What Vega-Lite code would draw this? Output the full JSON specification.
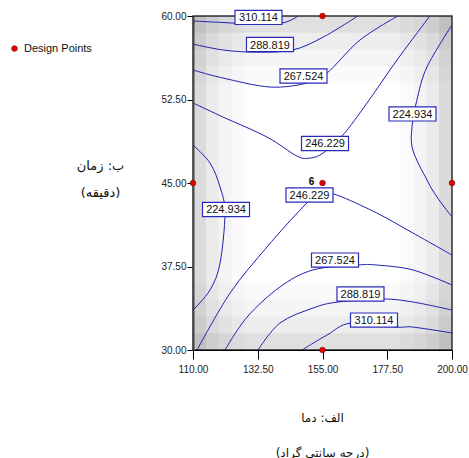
{
  "$schema": "https://vega.github.io/schema/vega-lite/v6.json",
  "width": 259,
  "height": 334,
  "autosize": "none",
  "padding": {"left": 193, "top": 16, "right": 17, "bottom": 108},
  "background": "white",
  "config": {
    "view": {"stroke": "#333", "strokeWidth": 1.5},
    "axis": {"labelFont": "Liberation Sans", "labelFontSize": 10, "labelColor": "#222", "titleFont": "DejaVu Sans", "titleFontWeight": "normal", "titleColor": "#111", "tickColor": "#000", "grid": false, "labelFlush": false, "labelOverlap": false}
  },
  "datasets": {
    "shade": [
      {"x1": 110, "x2": 114.5, "y1": 30, "y2": 60, "a": 0.14},
      {"x1": 114.5, "x2": 119, "y1": 30, "y2": 60, "a": 0.08},
      {"x1": 119, "x2": 123.5, "y1": 30, "y2": 60, "a": 0.045},
      {"x1": 123.5, "x2": 128, "y1": 30, "y2": 60, "a": 0.02},
      {"x1": 195.5, "x2": 200, "y1": 30, "y2": 60, "a": 0.14},
      {"x1": 191, "x2": 195.5, "y1": 30, "y2": 60, "a": 0.08},
      {"x1": 186.5, "x2": 191, "y1": 30, "y2": 60, "a": 0.045},
      {"x1": 182, "x2": 186.5, "y1": 30, "y2": 60, "a": 0.02},
      {"x1": 110, "x2": 200, "y1": 58.5, "y2": 60, "a": 0.12},
      {"x1": 110, "x2": 200, "y1": 57, "y2": 58.5, "a": 0.07},
      {"x1": 110, "x2": 200, "y1": 55.5, "y2": 57, "a": 0.04},
      {"x1": 110, "x2": 200, "y1": 54, "y2": 55.5, "a": 0.02},
      {"x1": 110, "x2": 200, "y1": 30, "y2": 31.5, "a": 0.12},
      {"x1": 110, "x2": 200, "y1": 31.5, "y2": 33, "a": 0.07},
      {"x1": 110, "x2": 200, "y1": 33, "y2": 34.5, "a": 0.04},
      {"x1": 110, "x2": 200, "y1": 34.5, "y2": 36, "a": 0.02}
    ],
    "contours": [
      {"c": "A", "i": 1, "x": 110, "y": 59.55},
      {"c": "A", "i": 2, "x": 120, "y": 59.42},
      {"c": "A", "i": 3, "x": 130, "y": 59.3},
      {"c": "A", "i": 4, "x": 141, "y": 59.37},
      {"c": "A", "i": 5, "x": 146.5, "y": 60},
      {"c": "B", "i": 1, "x": 110, "y": 57.48},
      {"c": "B", "i": 2, "x": 120.4, "y": 56.95},
      {"c": "B", "i": 3, "x": 132, "y": 56.75},
      {"c": "B", "i": 4, "x": 144.7, "y": 56.95},
      {"c": "B", "i": 5, "x": 155.2, "y": 58.1},
      {"c": "B", "i": 6, "x": 167.3, "y": 60},
      {"c": "C", "i": 1, "x": 110, "y": 55.15},
      {"c": "C", "i": 2, "x": 120.4, "y": 54.43},
      {"c": "C", "i": 3, "x": 136.75, "y": 53.62},
      {"c": "C", "i": 4, "x": 149.6, "y": 53.98},
      {"c": "C", "i": 5, "x": 156.6, "y": 54.88},
      {"c": "C", "i": 6, "x": 168, "y": 57.84},
      {"c": "C", "i": 7, "x": 181.2, "y": 60},
      {"c": "D", "i": 1, "x": 110, "y": 52.19},
      {"c": "D", "i": 2, "x": 120.4, "y": 50.93},
      {"c": "D", "i": 3, "x": 135.7, "y": 49.13},
      {"c": "D", "i": 4, "x": 146.1, "y": 47.42},
      {"c": "D", "i": 5, "x": 150.65, "y": 47.24},
      {"c": "D", "i": 6, "x": 155.2, "y": 47.69},
      {"c": "D", "i": 7, "x": 162.1, "y": 49.31},
      {"c": "D", "i": 8, "x": 170.5, "y": 52.19},
      {"c": "D", "i": 9, "x": 180.9, "y": 56.05},
      {"c": "D", "i": 10, "x": 192.3, "y": 60},
      {"c": "E", "i": 1, "x": 200, "y": 59.2},
      {"c": "E", "i": 2, "x": 191.3, "y": 55.42},
      {"c": "E", "i": 3, "x": 187.8, "y": 52.45},
      {"c": "E", "i": 4, "x": 186.1, "y": 50.03},
      {"c": "E", "i": 5, "x": 186.4, "y": 47.96},
      {"c": "E", "i": 6, "x": 191.3, "y": 45.27},
      {"c": "E", "i": 7, "x": 194.8, "y": 43.74},
      {"c": "E", "i": 8, "x": 200, "y": 41.95},
      {"c": "F", "i": 1, "x": 200, "y": 38.53},
      {"c": "F", "i": 2, "x": 186.4, "y": 40.51},
      {"c": "F", "i": 3, "x": 173.9, "y": 42.3},
      {"c": "F", "i": 4, "x": 160, "y": 43.92},
      {"c": "F", "i": 5, "x": 154, "y": 44.1},
      {"c": "F", "i": 6, "x": 148.2, "y": 42.84},
      {"c": "F", "i": 7, "x": 135.7, "y": 39.25},
      {"c": "F", "i": 8, "x": 122.9, "y": 35.12},
      {"c": "F", "i": 9, "x": 111.4, "y": 30},
      {"c": "G", "i": 1, "x": 110, "y": 48.41},
      {"c": "G", "i": 2, "x": 115.9, "y": 46.8},
      {"c": "G", "i": 3, "x": 119.4, "y": 44.64},
      {"c": "G", "i": 4, "x": 121.1, "y": 42.3},
      {"c": "G", "i": 5, "x": 119.4, "y": 37.81},
      {"c": "G", "i": 6, "x": 115.9, "y": 35.39},
      {"c": "G", "i": 7, "x": 110, "y": 33.59},
      {"c": "H", "i": 1, "x": 200, "y": 35.84},
      {"c": "H", "i": 2, "x": 186.4, "y": 37.19},
      {"c": "H", "i": 3, "x": 173.9, "y": 37.63},
      {"c": "H", "i": 4, "x": 167, "y": 37.63},
      {"c": "H", "i": 5, "x": 151.7, "y": 37.19},
      {"c": "H", "i": 6, "x": 140.2, "y": 35.66},
      {"c": "H", "i": 7, "x": 128.8, "y": 32.96},
      {"c": "H", "i": 8, "x": 121.1, "y": 30},
      {"c": "I", "i": 1, "x": 200, "y": 33.59},
      {"c": "I", "i": 2, "x": 186.4, "y": 34.31},
      {"c": "I", "i": 3, "x": 176, "y": 34.58},
      {"c": "I", "i": 4, "x": 160.4, "y": 34.31},
      {"c": "I", "i": 5, "x": 151.7, "y": 33.77},
      {"c": "I", "i": 6, "x": 140.2, "y": 32.42},
      {"c": "I", "i": 7, "x": 132.6, "y": 30},
      {"c": "J", "i": 1, "x": 200, "y": 31.53},
      {"c": "J", "i": 2, "x": 186.4, "y": 32.06},
      {"c": "J", "i": 3, "x": 180.9, "y": 32.06},
      {"c": "J", "i": 4, "x": 164.9, "y": 32.42},
      {"c": "J", "i": 5, "x": 156.6, "y": 31.35},
      {"c": "J", "i": 6, "x": 147.9, "y": 30}
    ],
    "labels": [
      {"x": 132.76, "y": 59.87, "t": "310.114"},
      {"x": 136.75, "y": 57.44, "t": "288.819"},
      {"x": 148.4, "y": 54.61, "t": "267.524"},
      {"x": 155.87, "y": 48.55, "t": "246.229"},
      {"x": 186.27, "y": 51.2, "t": "224.934"},
      {"x": 150.48, "y": 43.92, "t": "246.229"},
      {"x": 121.47, "y": 42.62, "t": "224.934"},
      {"x": 159.34, "y": 38.08, "t": "267.524"},
      {"x": 168.2, "y": 35.03, "t": "288.819"},
      {"x": 172.9, "y": 32.69, "t": "310.114"}
    ],
    "design": [
      {"x": 110, "y": 45, "s": "Design Points", "n": ""},
      {"x": 155, "y": 45, "s": "Design Points", "n": "6"},
      {"x": 200, "y": 45, "s": "Design Points", "n": ""},
      {"x": 155, "y": 60, "s": "Design Points", "n": ""},
      {"x": 155, "y": 30, "s": "Design Points", "n": ""}
    ]
  },
  "layer": [
    {
      "data": {"name": "shade"},
      "mark": {"type": "rect", "fill": "black"},
      "encoding": {
        "x": {"field": "x1", "type": "quantitative", "scale": {"domain": [110, 200], "nice": false, "zero": false},
          "axis": {"values": [110, 132.5, 155, 177.5, 200], "format": ".2f", "domainColor": "#000", "tickSize": 9, "labelPadding": 5,
            "title": ["الف: دما", "(درجه سانتی گراد)"], "titleFontSize": 12, "titleX": 129, "titleY": 71, "titleAlign": "center", "titleBaseline": "alphabetic", "titleLineHeight": 35}},
        "x2": {"field": "x2"},
        "y": {"field": "y1", "type": "quantitative", "scale": {"domain": [30, 60], "nice": false, "zero": false},
          "axis": {"values": [30, 37.5, 45, 52.5, 60], "format": ".2f", "domainColor": "#555", "domainWidth": 2, "tickSize": 6, "labelPadding": 1,
            "title": ["ب: زمان", "(دقيقه)"], "titleFontSize": 13, "titleAngle": 0, "titleX": -93, "titleY": 153, "titleAlign": "center", "titleBaseline": "alphabetic", "titleLineHeight": 27}},
        "y2": {"field": "y2"},
        "opacity": {"field": "a", "type": "quantitative", "scale": null}
      }
    },
    {
      "data": {"name": "contours"},
      "mark": {"type": "line", "color": "#1f1fb0", "strokeWidth": 1, "interpolate": "cardinal", "clip": true},
      "encoding": {
        "x": {"field": "x", "type": "quantitative"},
        "y": {"field": "y", "type": "quantitative"},
        "detail": {"field": "c"},
        "order": {"field": "i", "type": "quantitative"}
      }
    },
    {
      "data": {"name": "labels"},
      "mark": {"type": "point", "shape": "M-1,-0.3H1V0.3H-1Z", "size": 2209, "filled": true, "fill": "white", "stroke": "#2a2ab8", "strokeWidth": 1.2, "opacity": 1},
      "encoding": {
        "x": {"field": "x", "type": "quantitative"},
        "y": {"field": "y", "type": "quantitative"}
      }
    },
    {
      "data": {"name": "labels"},
      "mark": {"type": "text", "font": "Liberation Sans", "fontSize": 11, "color": "#111", "baseline": "middle", "align": "center", "dy": 1},
      "encoding": {
        "x": {"field": "x", "type": "quantitative"},
        "y": {"field": "y", "type": "quantitative"},
        "text": {"field": "t"}
      }
    },
    {
      "data": {"name": "design"},
      "mark": {"type": "point", "shape": "circle", "filled": true, "size": 32, "stroke": "#700", "strokeWidth": 0.6, "opacity": 1, "clip": false},
      "encoding": {
        "x": {"field": "x", "type": "quantitative"},
        "y": {"field": "y", "type": "quantitative"},
        "color": {"field": "s", "type": "nominal", "scale": {"range": ["#e80000"]},
          "legend": {"title": null, "orient": "none", "legendX": -184, "legendY": 27, "labelFont": "Liberation Sans", "labelFontSize": 11, "labelColor": "#111", "symbolSize": 32, "symbolStrokeColor": "#700", "symbolStrokeWidth": 0.6}}
      }
    },
    {
      "data": {"name": "design"},
      "mark": {"type": "text", "font": "Liberation Sans", "fontSize": 10, "fontWeight": "bold", "color": "#000", "dx": -11, "dy": -1, "baseline": "middle"},
      "encoding": {
        "x": {"field": "x", "type": "quantitative"},
        "y": {"field": "y", "type": "quantitative"},
        "text": {"field": "n"}
      }
    }
  ]
}
